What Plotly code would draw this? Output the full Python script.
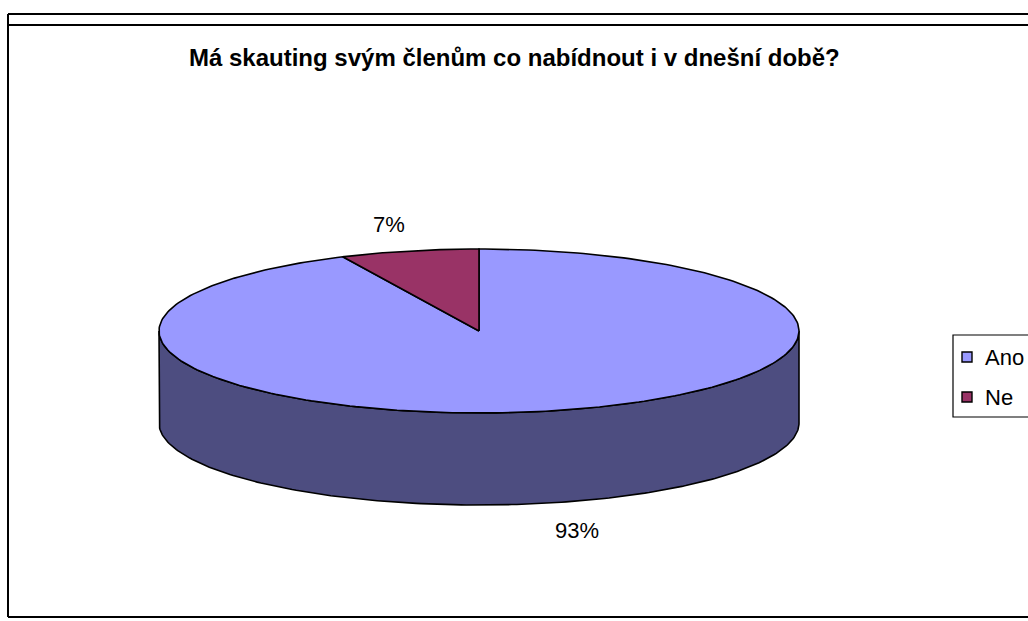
import numpy as np
import plotly.graph_objects as go

# survey answers
labels = ['Ano', 'Ne']
values = [93, 7]
top_colors = ['#9999FF', '#993366']
side_colors = ['#4D4D80', '#4D1A33']
title = 'Má skauting svým členům co nabídnout i v dnešní době?'

W, H = 1028, 621
FONT = 'Arial, Liberation Sans, sans-serif'

# pie geometry (screen-like units, y grows downwards)
cx, cy = 479, 331
rx, ry = 320, 82
depth = 92


def ellipse(phi_deg, dy=0.0):
    # phi measured clockwise from 12 o'clock
    p = np.radians(phi_deg)
    return cx + rx * np.sin(p), cy - ry * np.cos(p) + dy


fig = go.Figure()

fracs = np.array(values, dtype=float) / sum(values)
bounds = np.concatenate([[0], np.cumsum(fracs) * 360])

# side walls (only the front half is visible)
for i in range(len(values)):
    a0 = max(bounds[i], 90)
    a1 = min(bounds[i + 1], 270)
    if a1 <= a0:
        continue
    phi = np.linspace(a0, a1, 200)
    xt, yt = ellipse(phi)
    xb, yb = ellipse(phi[::-1], depth)
    fig.add_trace(go.Scatter(
        x=np.concatenate([xt, xb, xt[:1]]),
        y=np.concatenate([yt, yb, yt[:1]]),
        mode='lines', fill='toself', fillcolor=side_colors[i],
        line=dict(color='black', width=1.6),
        hoverinfo='skip', showlegend=False,
    ))

# top faces
for i in range(len(values)):
    phi = np.linspace(bounds[i], bounds[i + 1], 300)
    xa, ya = ellipse(phi)
    fig.add_trace(go.Scatter(
        x=np.concatenate([[cx], xa, [cx]]),
        y=np.concatenate([[cy], ya, [cy]]),
        mode='lines', fill='toself', fillcolor=top_colors[i],
        line=dict(color='black', width=1.6),
        name=labels[i], text='%s: %d%%' % (labels[i], values[i]),
        hoveron='fills', hoverinfo='text', showlegend=False,
    ))

# percentage labels outside the slices
for i in range(len(values)):
    mid = (bounds[i] + bounds[i + 1]) / 2
    front = np.cos(np.radians(mid)) < 0
    px, py = ellipse(mid, depth if front else 0)
    fig.add_annotation(
        x=px + (-2 if np.sin(np.radians(mid)) < 0 else 4),
        y=py + (13 if front else -12),
        text='%d%%' % round(fracs[i] * 100),
        xanchor='right' if np.sin(np.radians(mid)) < 0 else 'left',
        yanchor='top' if front else 'bottom',
        showarrow=False, font=dict(family=FONT, size=22, color='black'),
    )

fig.add_annotation(
    x=514, y=57, text='<b>%s</b>' % title, showarrow=False,
    xanchor='center', yanchor='middle',
    font=dict(family=FONT, size=24, color='black'),
)

# chart frame
frame = dict(color='black', width=2)
fig.add_shape(type='line', x0=8, x1=W + 5, y0=14, y1=14, line=frame)
fig.add_shape(type='line', x0=8, x1=W + 5, y0=25, y1=25, line=frame)
fig.add_shape(type='line', x0=8, x1=8, y0=14, y1=617, line=frame)
fig.add_shape(type='line', x0=8, x1=W + 5, y0=617, y1=617, line=frame)

# legend
fig.add_shape(type='rect', x0=953, x1=W + 5, y0=335, y1=417,
              line=dict(color='black', width=1.2), fillcolor='white')
for i, lab in enumerate(labels):
    yc = 357 + 40 * i
    fig.add_shape(type='rect', x0=962, x1=972, y0=yc - 5, y1=yc + 5,
                  line=dict(color='black', width=1.4), fillcolor=top_colors[i])
    fig.add_annotation(x=983, y=yc, text=lab, showarrow=False,
                       xanchor='left', yanchor='middle',
                       font=dict(family=FONT, size=22, color='black'))

fig.update_xaxes(range=[0, W], visible=False, fixedrange=True)
fig.update_yaxes(range=[H, 0], visible=False, fixedrange=True)
fig.update_layout(
    width=W, height=H,
    margin=dict(l=0, r=0, t=0, b=0),
    paper_bgcolor='white', plot_bgcolor='white',
    showlegend=False,
)

fig.write_html('out.html', config={'displayModeBar': False}, post_script=(
    "document.body.style.margin='0';"
    "document.body.style.overflow='hidden';"))
